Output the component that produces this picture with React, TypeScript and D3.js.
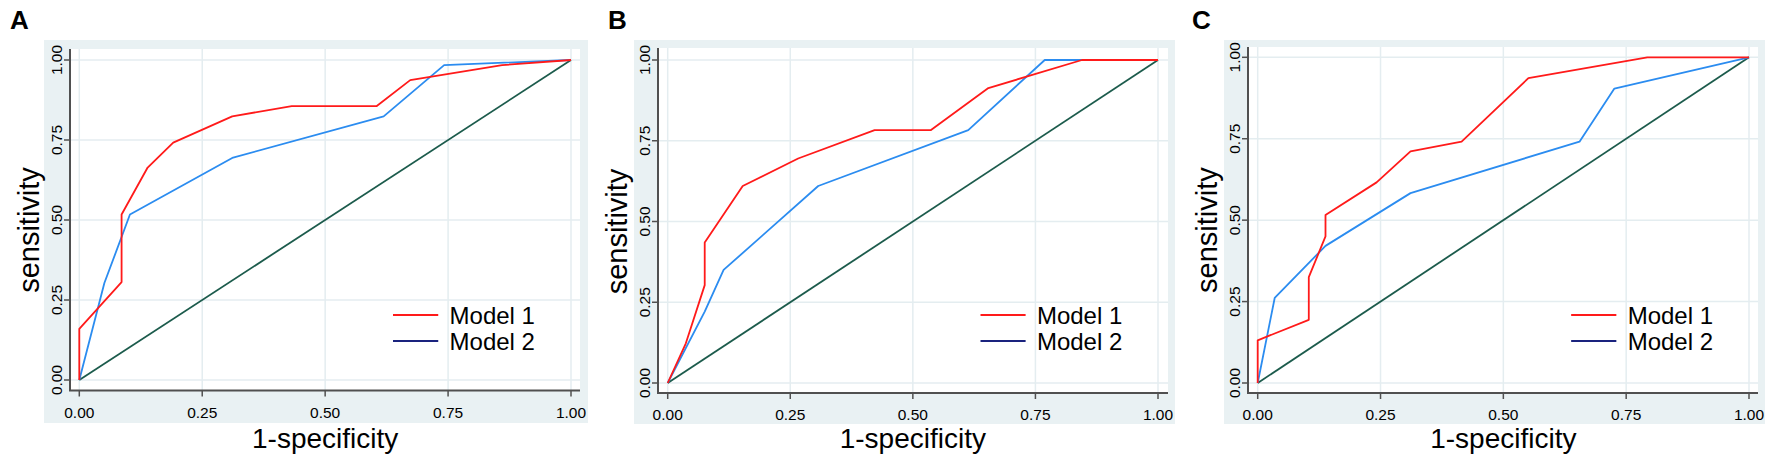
import React from "react";
import * as d3 from "d3";

const tickValues = [0, 0.25, 0.5, 0.75, 1];
const panelLabels = ["A", "B", "C"];
const seriesNames = ["Model 1", "Model 2"];

// Panel A
const aModel1X = [0, 0, 0.086, 0.086, 0.139, 0.191, 0.311, 0.432, 0.605, 0.673, 0.86, 1];
const aModel1Y = [0, 0.16, 0.306, 0.517, 0.664, 0.742, 0.824, 0.856, 0.856, 0.937, 0.984, 1];
const aModel2X = [0, 0.051, 0.103, 0.311, 0.619, 0.742, 1];
const aModel2Y = [0, 0.303, 0.517, 0.694, 0.824, 0.984, 1];

// Panel B
const bModel1X = [0, 0.037, 0.0755, 0.0755, 0.153, 0.266, 0.422, 0.537, 0.654, 0.845, 1];
const bModel1Y = [0, 0.123, 0.303, 0.435, 0.61, 0.695, 0.783, 0.783, 0.913, 1, 1];
const bModel2X = [0, 0.0755, 0.114, 0.307, 0.613, 0.769, 1];
const bModel2Y = [0, 0.221, 0.35, 0.61, 0.783, 1, 1];

// Panel C
const cModel1X = [0, 0, 0.104, 0.104, 0.138, 0.138, 0.242, 0.311, 0.415, 0.551, 0.793, 1];
const cModel1Y = [0, 0.131, 0.194, 0.325, 0.45, 0.516, 0.616, 0.711, 0.741, 0.936, 1, 1];
const cModel2X = [0, 0.0346, 0.138, 0.311, 0.655, 0.726, 1];
const cModel2Y = [0, 0.261, 0.421, 0.583, 0.741, 0.904, 1];

const zip = (xs: number[], ys: number[]) => xs.map((x, i) => [x, ys[i]] as [number, number]);

const FONT = "'Liberation Sans', Arial, Helvetica, sans-serif";
const RED = "#FF1A1A";
const BLUE = "#2B8CF0";
const NAVY = "#1A237E";
const DIAG = "#1C5B4C";
const BG = "#E9F1F3";
const GRID = "#E4EDF0";
const AXIS = "#505050";

type Layout = {
  label: string;
  labelX: number;
  bg: [number, number, number, number];
  axisX: number;
  axisY: number;
  plotTop: number;
  plotRight: number;
  x0: number;
  x1: number;
  y0: number;
  y1: number;
  m1: [number, number][];
  m2: [number, number][];
};

const layouts: Layout[] = [
  { label: panelLabels[0], labelX: 10, bg: [44, 40, 588, 423], axisX: 70, axisY: 390.5, plotTop: 49, plotRight: 580, x0: 79.3, x1: 571, y0: 380, y1: 60, m1: zip(aModel1X, aModel1Y), m2: zip(aModel2X, aModel2Y) },
  { label: panelLabels[1], labelX: 608, bg: [634, 40, 1175, 424], axisX: 658, axisY: 393, plotTop: 48, plotRight: 1168, x0: 667.7, x1: 1158, y0: 383, y1: 60, m1: zip(bModel1X, bModel1Y), m2: zip(bModel2X, bModel2Y) },
  { label: panelLabels[2], labelX: 1192, bg: [1224, 40, 1765, 424], axisX: 1248, axisY: 393, plotTop: 47, plotRight: 1758, x0: 1257.7, x1: 1749, y0: 383, y1: 57.3, m1: zip(cModel1X, cModel1Y), m2: zip(cModel2X, cModel2Y) },
];

const fmt = d3.format(".2f");

function Panel({ L }: { L: Layout }) {
  const x = d3.scaleLinear().domain([0, 1]).range([L.x0, L.x1]);
  const y = d3.scaleLinear().domain([0, 1]).range([L.y0, L.y1]);
  const line = d3.line<[number, number]>().x((d) => x(d[0])).y((d) => y(d[1]));
  const [bx0, by0, bx1, by1] = L.bg;
  const legX0 = x(0.638);
  const legX1 = x(0.73);
  const legTX = x(0.753);
  const cy = (L.y0 + L.y1) / 2;
  const cx = (L.x0 + L.x1) / 2;
  return (
    <g>
      <text x={L.labelX} y={29} fontFamily={FONT} fontWeight="bold" fontSize={26} fill="#000">
        {L.label}
      </text>
      <rect x={bx0} y={by0} width={bx1 - bx0} height={by1 - by0} fill={BG} />
      <rect x={L.axisX} y={L.plotTop} width={L.plotRight - L.axisX} height={L.axisY - L.plotTop} fill="#fff" />
      {tickValues.map((t) => (
        <g key={"g" + t}>
          <line x1={x(t)} x2={x(t)} y1={L.plotTop} y2={L.axisY} stroke={GRID} strokeWidth={1.5} />
          <line x1={L.axisX} x2={L.plotRight} y1={y(t)} y2={y(t)} stroke={GRID} strokeWidth={1.5} />
        </g>
      ))}
      <line x1={x(0)} y1={y(0)} x2={x(1)} y2={y(1)} stroke={DIAG} strokeWidth={1.8} />
      <path d={line(L.m2) || ""} fill="none" stroke={BLUE} strokeWidth={1.8} strokeLinejoin="round" />
      <path d={line(L.m1) || ""} fill="none" stroke={RED} strokeWidth={1.8} strokeLinejoin="round" />
      {/* axes */}
      <line x1={L.axisX} x2={L.axisX} y1={L.plotTop} y2={L.axisY} stroke={AXIS} strokeWidth={2} />
      <line x1={L.axisX - 1} x2={L.plotRight} y1={L.axisY} y2={L.axisY} stroke={AXIS} strokeWidth={2} />
      {tickValues.map((t) => (
        <g key={"t" + t}>
          <line x1={x(t)} x2={x(t)} y1={L.axisY} y2={L.axisY + 6} stroke={AXIS} strokeWidth={1.5} />
          <text x={x(t)} y={L.axisY + 27} textAnchor="middle" fontFamily={FONT} fontSize={15.5} fill="#000">
            {fmt(t)}
          </text>
          <line x1={L.axisX - 6} x2={L.axisX} y1={y(t)} y2={y(t)} stroke={AXIS} strokeWidth={1.5} />
          <text
            transform={`translate(${L.axisX - 8},${y(t)}) rotate(-90)`}
            textAnchor="middle"
            fontFamily={FONT}
            fontSize={15.5}
            fill="#000"
          >
            {fmt(t)}
          </text>
        </g>
      ))}
      <text x={cx} y={448} textAnchor="middle" fontFamily={FONT} fontSize={28} fill="#000">
        1-specificity
      </text>
      <text
        transform={`translate(${L.axisX - 31},${cy + 10}) rotate(-90)`}
        textAnchor="middle"
        fontFamily={FONT}
        fontSize={29}
        fill="#000"
      >
        sensitivity
      </text>
      {/* legend */}
      <line x1={legX0} x2={legX1} y1={315} y2={315} stroke={RED} strokeWidth={2} />
      <text x={legTX} y={323.5} fontFamily={FONT} fontSize={24} fill="#000">
        {seriesNames[0]}
      </text>
      <line x1={legX0} x2={legX1} y1={341} y2={341} stroke={NAVY} strokeWidth={2} />
      <text x={legTX} y={350} fontFamily={FONT} fontSize={24} fill="#000">
        {seriesNames[1]}
      </text>
    </g>
  );
}

export default function App() {
  return (
    <svg
      width={1772}
      height={461}
      style={{ position: "absolute", left: 0, top: 0, background: "#fff" }}
    >
      <rect width={1772} height={461} fill="#fff" />
      {layouts.map((L) => (
        <Panel key={L.label} L={L} />
      ))}
    </svg>
  );
}
